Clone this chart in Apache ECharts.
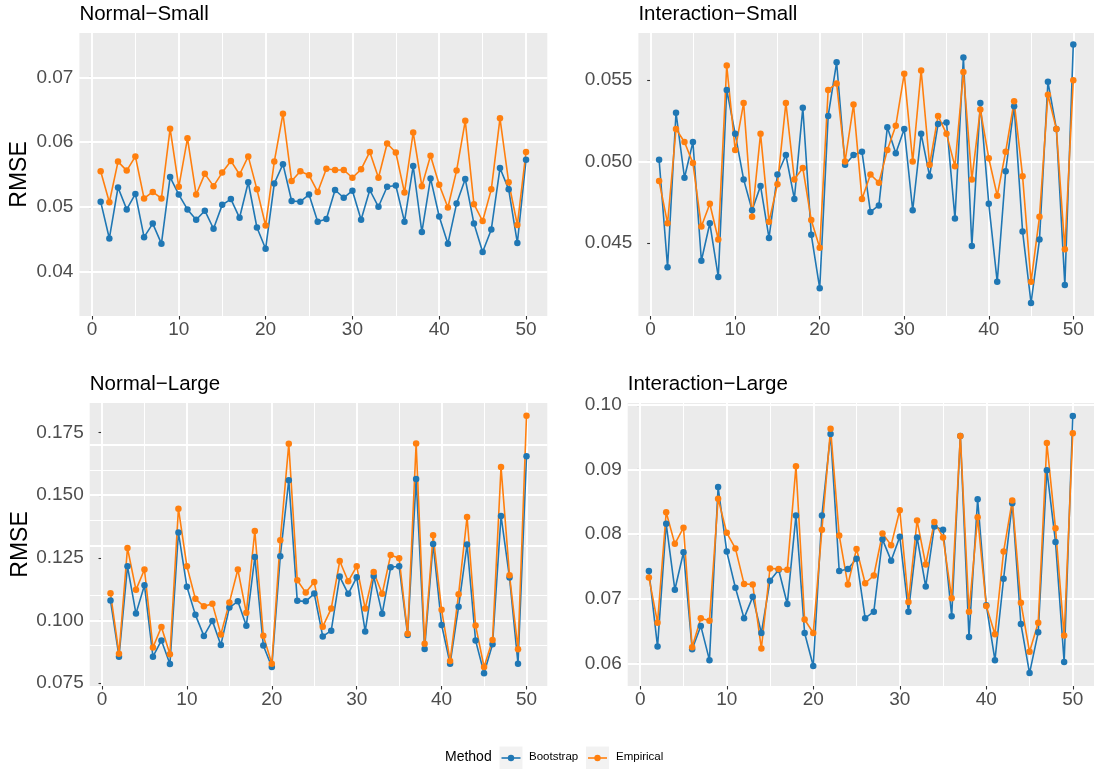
<!DOCTYPE html>
<html>
<head>
<meta charset="utf-8">
<script src="https://cdn.jsdelivr.net/npm/echarts@6/dist/echarts.min.js"></script>
<style>
  html, body { margin: 0; padding: 0; background: #ffffff; }
  #chart { width: 1094px; height: 769px; }
</style>
</head>
<body>
<div id="chart"></div>
<script>
// Simulation runs on the x axis
const runs = Array.from({ length: 50 }, (_, i) => i + 1);

// RMSE per run, bootstrap vs empirical, for the four scenarios
const normalSmallBoot = [
  0.0508, 0.0451, 0.0530, 0.0496, 0.0520, 0.0453, 0.0474, 0.0443, 0.0546, 0.0519,
  0.0496, 0.0480, 0.0494, 0.0466, 0.0503, 0.0512, 0.0483, 0.0538, 0.0468, 0.0435,
  0.0536, 0.0566, 0.0509, 0.0508, 0.0519, 0.0477, 0.0481, 0.0526, 0.0514, 0.0525,
  0.0480, 0.0526, 0.0500, 0.0531, 0.0533, 0.0477, 0.0563, 0.0461, 0.0544, 0.0485,
  0.0443, 0.0505, 0.0543, 0.0474, 0.0430, 0.0465, 0.0560, 0.0527, 0.0444, 0.0573
];
const normalSmallEmp = [
  0.0555, 0.0507, 0.0570, 0.0556, 0.0578, 0.0513, 0.0523, 0.0513, 0.0621, 0.0531,
  0.0606, 0.0519, 0.0551, 0.0532, 0.0553, 0.0571, 0.0550, 0.0578, 0.0527, 0.0471,
  0.0570, 0.0644, 0.0540, 0.0555, 0.0549, 0.0523, 0.0559, 0.0557, 0.0557, 0.0545,
  0.0558, 0.0585, 0.0545, 0.0598, 0.0584, 0.0522, 0.0615, 0.0532, 0.0579, 0.0534,
  0.0499, 0.0556, 0.0633, 0.0504, 0.0478, 0.0527, 0.0637, 0.0538, 0.0472, 0.0585
];
const interactionSmallBoot = [
  0.0501, 0.0435, 0.0530, 0.0490, 0.0512, 0.0439, 0.0462, 0.0429, 0.0544, 0.0517,
  0.0489, 0.0470, 0.0485, 0.0453, 0.0492, 0.0504, 0.0477, 0.0533, 0.0455, 0.0422,
  0.0528, 0.0561, 0.0498, 0.0504, 0.0506, 0.0469, 0.0473, 0.0521, 0.0505, 0.0520,
  0.0470, 0.0517, 0.0491, 0.0523, 0.0524, 0.0465, 0.0564, 0.0448, 0.0536, 0.0474,
  0.0426, 0.0494, 0.0534, 0.0457, 0.0413, 0.0452, 0.0549, 0.0520, 0.0424, 0.0572
];
const interactionSmallEmp = [
  0.0488, 0.0462, 0.0520, 0.0512, 0.0499, 0.0460, 0.0474, 0.0452, 0.0559, 0.0507,
  0.0536, 0.0466, 0.0517, 0.0463, 0.0486, 0.0536, 0.0489, 0.0496, 0.0464, 0.0447,
  0.0544, 0.0548, 0.0500, 0.0535, 0.0477, 0.0492, 0.0487, 0.0507, 0.0522, 0.0554,
  0.0500, 0.0556, 0.0498, 0.0528, 0.0517, 0.0497, 0.0555, 0.0489, 0.0532, 0.0502,
  0.0479, 0.0506, 0.0537, 0.0491, 0.0426, 0.0466, 0.0541, 0.0520, 0.0446, 0.0550
];
const normalLargeBoot = [
  0.1079, 0.0855, 0.1216, 0.1027, 0.1140, 0.0855, 0.0920, 0.0826, 0.1351, 0.1134,
  0.1022, 0.0938, 0.0998, 0.0902, 0.1051, 0.1076, 0.0979, 0.1253, 0.0900, 0.0814,
  0.1256, 0.1560, 0.1078, 0.1076, 0.1107, 0.0936, 0.0959, 0.1175, 0.1106, 0.1172,
  0.0956, 0.1177, 0.1026, 0.1212, 0.1216, 0.0942, 0.1565, 0.0886, 0.1305, 0.0982,
  0.0827, 0.1054, 0.1303, 0.0920, 0.0789, 0.0905, 0.1417, 0.1171, 0.0827, 0.1655
];
const normalLargeEmp = [
  0.1108, 0.0867, 0.1289, 0.1122, 0.1203, 0.0892, 0.0974, 0.0865, 0.1446, 0.1216,
  0.1086, 0.1056, 0.1066, 0.0944, 0.1071, 0.1203, 0.1030, 0.1357, 0.0939, 0.0827,
  0.1320, 0.1705, 0.1160, 0.1111, 0.1153, 0.0975, 0.1047, 0.1237, 0.1156, 0.1216,
  0.1047, 0.1193, 0.1106, 0.1261, 0.1248, 0.0947, 0.1706, 0.0907, 0.1340, 0.1042,
  0.0838, 0.1104, 0.1413, 0.0980, 0.0814, 0.0922, 0.1612, 0.1180, 0.0885, 0.1817
];
const interactionLargeBoot = [
  0.0743, 0.0626, 0.0816, 0.0714, 0.0772, 0.0622, 0.0658, 0.0605, 0.0873, 0.0773,
  0.0717, 0.0670, 0.0703, 0.0647, 0.0728, 0.0745, 0.0692, 0.0829, 0.0647, 0.0596,
  0.0829, 0.0955, 0.0743, 0.0746, 0.0762, 0.0670, 0.0680, 0.0792, 0.0759, 0.0796,
  0.0680, 0.0795, 0.0719, 0.0812, 0.0807, 0.0673, 0.0952, 0.0641, 0.0854, 0.0690,
  0.0605, 0.0731, 0.0848, 0.0661, 0.0585, 0.0648, 0.0899, 0.0788, 0.0602, 0.0983
];
const interactionLargeEmp = [
  0.0733, 0.0663, 0.0834, 0.0785, 0.0810, 0.0625, 0.0670, 0.0666, 0.0855, 0.0802,
  0.0778, 0.0723, 0.0722, 0.0623, 0.0747, 0.0746, 0.0745, 0.0905, 0.0668, 0.0647,
  0.0807, 0.0963, 0.0798, 0.0722, 0.0777, 0.0724, 0.0736, 0.0801, 0.0783, 0.0837,
  0.0695, 0.0821, 0.0753, 0.0819, 0.0795, 0.0701, 0.0952, 0.0680, 0.0826, 0.0689,
  0.0645, 0.0773, 0.0852, 0.0694, 0.0618, 0.0663, 0.0941, 0.0809, 0.0643, 0.0956
];

// Panel titles and legend labels
const panelTitles = ['Normal\u2212Small', 'Interaction\u2212Small', 'Normal\u2212Large', 'Interaction\u2212Large'];
const methods = ['Bootstrap', 'Empirical'];
const legendTitle = 'Method';
const yTitle = 'RMSE';

// Axis ticks and limits
const xBreaks = [0, 10, 20, 30, 40, 50];
const xMinorBreaks = [5, 15, 25, 35, 45];
const xLimits = [-1.45, 52.45];
const yBreaks = [
  [0.04, 0.05, 0.06, 0.07],
  [0.045, 0.050, 0.055],
  [0.075, 0.100, 0.125, 0.150, 0.175],
  [0.06, 0.07, 0.08, 0.09, 0.10]
];
const yMinorBreaks = [
  [0.035, 0.045, 0.055, 0.065, 0.075],
  [0.0425, 0.0475, 0.0525, 0.0575],
  [0.0875, 0.1125, 0.1375, 0.1625],
  [0.065, 0.075, 0.085, 0.095]
];
const yLimits = [
  [0.0331, 0.0769],
  [0.0405, 0.0579],
  [0.0738, 0.1868],
  [0.0565, 0.1003]
];
const yDigits = [2, 3, 3, 2];

const bootSeries = [normalSmallBoot, interactionSmallBoot, normalLargeBoot, interactionLargeBoot];
const empSeries = [normalSmallEmp, interactionSmallEmp, normalLargeEmp, interactionLargeEmp];

// Layout of the four panels (pixels)
const panelBoxes = [
  { left: 79.4, top: 33, width: 467.9, height: 283 },
  { left: 638.4, top: 33, width: 457.6, height: 283 },
  { left: 89.7, top: 403, width: 457.6, height: 283 },
  { left: 627.7, top: 403, width: 467.9, height: 283 }
];
const colors = ['#1f77b4', '#ff7f0e'];
const FONT = 'Liberation Sans, Arial, Helvetica, sans-serif';

const chart = echarts.init(document.getElementById('chart'), null, { renderer: 'canvas' });

const grids = [], xAxes = [], yAxes = [], titles = [], series = [];

panelBoxes.forEach((box, p) => {
  grids.push({
    left: box.left, top: box.top, width: box.width, height: box.height,
    show: true, backgroundColor: '#ebebeb', borderWidth: 0
  });
  xAxes.push({
    gridIndex: p, type: 'value', min: xLimits[0], max: xLimits[1],
    axisLine: { show: false },
    axisTick: { show: true, customValues: xBreaks, length: 3.5, lineStyle: { color: '#333333', width: 1.1 } },
    axisLabel: { customValues: xBreaks, color: '#4d4d4d', fontSize: 19, fontFamily: FONT, margin: 4 },
    splitLine: { show: false }
  });
  const d = yDigits[p];
  yAxes.push({
    gridIndex: p, type: 'value', min: yLimits[p][0], max: yLimits[p][1],
    name: (p === 0 || p === 2) ? yTitle : '',
    nameLocation: 'middle', nameRotate: 90,
    nameGap: p === 0 ? 48 : 58,
    nameTextStyle: { color: '#000000', fontSize: 23, fontFamily: FONT },
    axisLine: { show: false },
    axisTick: { show: true, customValues: yBreaks[p], length: 3.5, lineStyle: { color: '#333333', width: 1.1 } },
    axisLabel: {
      customValues: yBreaks[p], color: '#4d4d4d', fontSize: 19, fontFamily: FONT, margin: 6,
      formatter: v => Number(v).toFixed(d)
    },
    splitLine: { show: false }
  });
  titles.push({
    text: panelTitles[p], left: box.left, top: box.top - 29, padding: 0,
    textStyle: { color: '#000000', fontSize: 20.5, fontWeight: 'normal', fontFamily: FONT }
  });

  // panel grid lines, drawn beneath the data
  const gridLines = []
    .concat(yMinorBreaks[p].map(v => ({ yAxis: v, lineStyle: { width: 1 } })))
    .concat(xMinorBreaks.map(v => ({ xAxis: v, lineStyle: { width: 1 } })))
    .concat(yBreaks[p].map(v => ({ yAxis: v, lineStyle: { width: 1.9 } })))
    .concat(xBreaks.map(v => ({ xAxis: v, lineStyle: { width: 1.9 } })));
  series.push({
    type: 'line', xAxisIndex: p, yAxisIndex: p, data: [], z: 1, silent: true,
    markLine: {
      z: 1, silent: true, symbol: ['none', 'none'], label: { show: false },
      lineStyle: { color: '#ffffff', type: 'solid' },
      emphasis: { disabled: true },
      data: gridLines
    }
  });

  const groups = [bootSeries[p], empSeries[p]];
  // lines for both methods first, then points on top
  groups.forEach((vals, m) => {
    series.push({
      name: methods[m], type: 'line', xAxisIndex: p, yAxisIndex: p, z: 2 + m,
      showSymbol: false, silent: true,
      lineStyle: { color: colors[m], width: 1.6 },
      data: runs.map((r, i) => [r, vals[i]])
    });
  });
  groups.forEach((vals, m) => {
    series.push({
      name: methods[m], type: 'scatter', xAxisIndex: p, yAxisIndex: p, z: 4 + m,
      symbol: 'circle', symbolSize: 6.5, silent: true,
      itemStyle: { color: colors[m], opacity: 1 },
      data: runs.map((r, i) => [r, vals[i]])
    });
  });
});

// Legend at the bottom: title, key boxes with line + point, labels
const legendY = 758;
const keyBoxes = [{ x: 499.5, label: 529 }, { x: 586, label: 616 }];
const graphics = [
  {
    type: 'text', left: 445, top: legendY - 8,
    style: { text: legendTitle, fill: '#000000', font: '14px ' + FONT }
  }
];
keyBoxes.forEach((k, m) => {
  graphics.push({ type: 'rect', shape: { x: k.x, y: legendY - 11.5, width: 23, height: 23 }, style: { fill: '#f2f2f2' } });
  graphics.push({ type: 'line', shape: { x1: k.x + 2, y1: legendY, x2: k.x + 21, y2: legendY }, style: { stroke: colors[m], lineWidth: 1.6 } });
  graphics.push({ type: 'circle', shape: { cx: k.x + 11.5, cy: legendY, r: 3.2 }, style: { fill: colors[m] } });
  graphics.push({
    type: 'text', left: k.label, top: legendY - 7,
    style: { text: methods[m], fill: '#000000', font: '11.5px ' + FONT }
  });
});

chart.setOption({
  animation: false,
  backgroundColor: '#ffffff',
  title: titles,
  grid: grids,
  xAxis: xAxes,
  yAxis: yAxes,
  series: series,
  graphic: graphics
});
</script>
</body>
</html>
